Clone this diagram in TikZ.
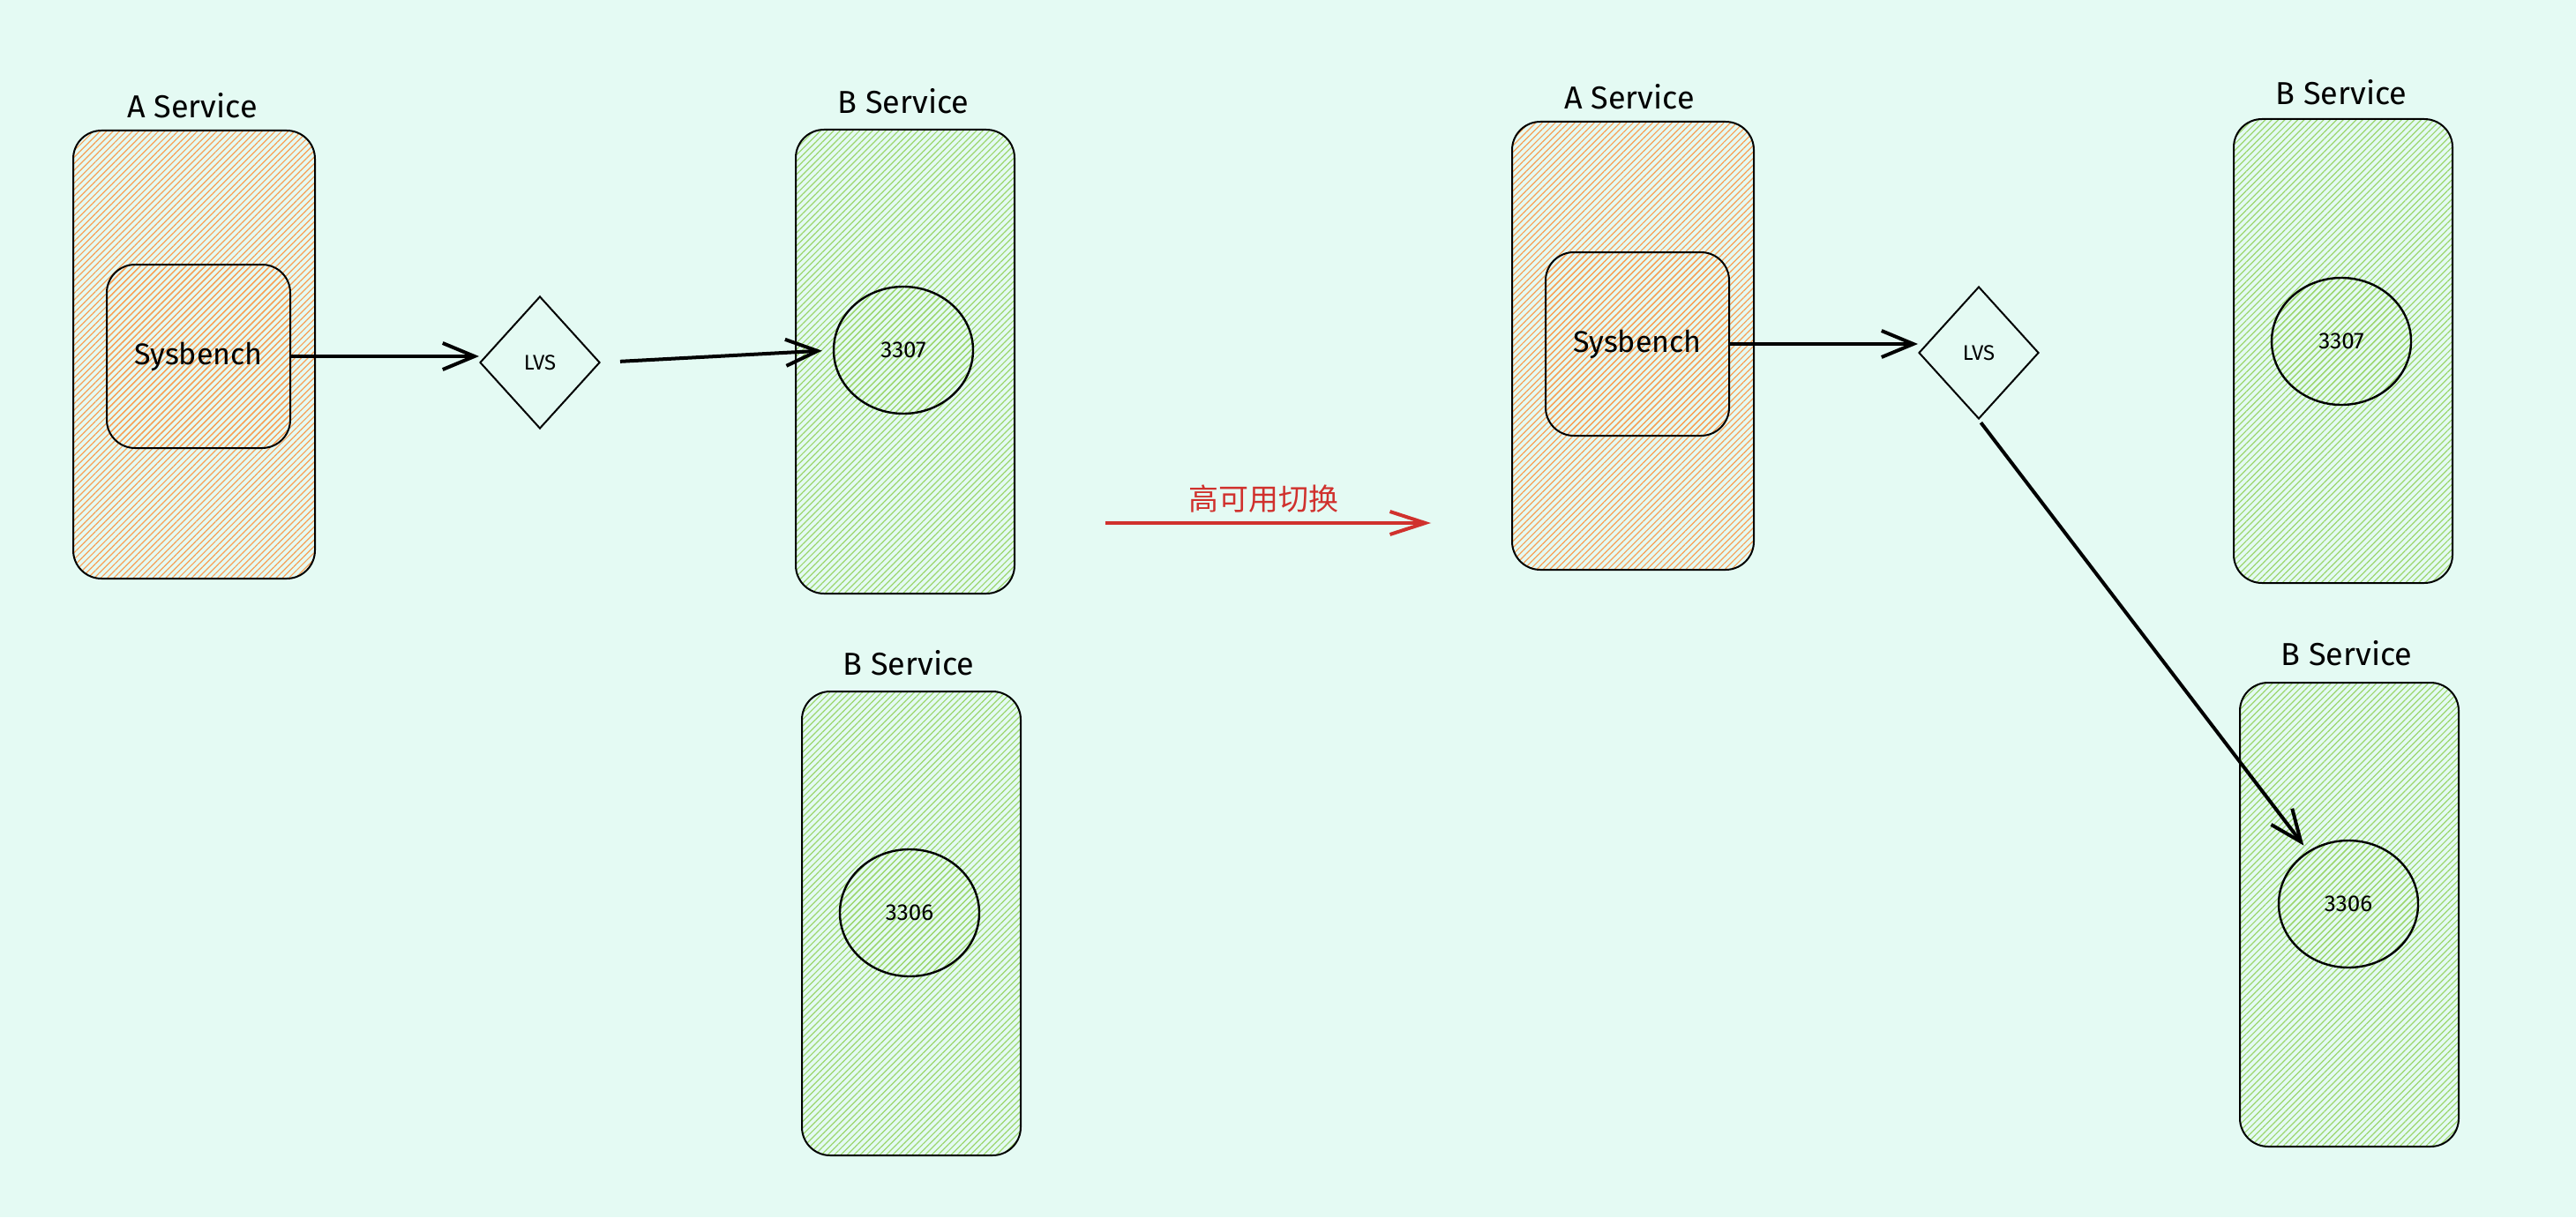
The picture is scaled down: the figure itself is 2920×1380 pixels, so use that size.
\documentclass[tikz,border=0pt]{standalone}
\usepackage{fontspec}
\setmainfont{Fira Sans}
\newfontfamily\cjkfont{Noto Sans CJK SC}
\usetikzlibrary{arrows.meta, shapes.geometric, patterns.meta}
\definecolor{bgmint}{HTML}{E4FAF3}
\definecolor{hachorange}{HTML}{F7A056}
\definecolor{hachgreen}{HTML}{9CD66E}
\definecolor{switchred}{HTML}{D0312D}

\begin{document}
\begin{tikzpicture}[
  x=0.25pt, y=-0.25pt,
  hach/.style={pattern={Lines[angle=45, distance=1.3pt, line width=0.3pt]}, pattern color=#1},
  svcA/.style={draw, line width=0.5pt, rounded corners=8pt, hach=hachorange, minimum width=68.5pt, minimum height=127pt},
  svcB/.style={draw, line width=0.5pt, rounded corners=8pt, hach=hachgreen, minimum width=62pt, minimum height=131.5pt},
  bench/.style={draw, line width=0.5pt, rounded corners=8pt, hach=hachorange, minimum width=52pt, minimum height=52pt, font=\fontsize{8.5}{10}\selectfont},
  lvs/.style={draw, line width=0.5pt, diamond, fill=bgmint, inner sep=0pt, minimum width=34pt, minimum height=37.5pt, font=\fontsize{6}{7}\selectfont},
  db/.style={draw, line width=0.6pt, ellipse, hach=hachgreen, inner sep=0pt, minimum width=39.5pt, minimum height=36pt, font=\fontsize{6.5}{8}\selectfont},
  lbl/.style={font=\fontsize{9}{11}\selectfont},
  arr/.style={-{Straight Barb[length=9pt, width=7.5pt, line width=1pt]}, line width=1pt},
  switch/.style={-{Straight Barb[length=10pt, width=6.5pt, line width=1pt]}, line width=1pt, switchred}
]
\fill[bgmint] (0,0) rectangle (2920,1380);
\useasboundingbox (0,0) rectangle (2920,1380);

% before the switch
\node[svcA] (aL) at (220,402) {};
\node[lbl] (aLlbl) at (218,120) {A Service};
\node[bench] (sbL) at (225,404) {Sysbench};
\node[lvs] (lvsL) at (612,411) {LVS};
\node[svcB] (bL1) at (1026,410) {};
\node[lbl] (bL1lbl) at (1024,115) {B Service};
\node[db] (dbL1) at (1024,397) {3307};
\node[svcB] (bL2) at (1033,1047) {};
\node[lbl] (bL2lbl) at (1030,752) {B Service};
\node[db] (dbL2) at (1031,1035) {3306};

\draw[arr] (sbL.east) -- (sbL.east -| lvsL.west);
\draw[arr, shorten <=5.5pt, shorten >=3pt] (lvsL.east) -- (dbL1.west);

% switch
\coordinate (swA) at (1253,593);
\coordinate (swB) at (1622,593);
\draw[switch] (swA) -- (swB);
\node[font=\cjkfont\fontsize{8.5}{10}\selectfont, text=switchred] (swlbl) at (1432,566) {高可用切换};

% after the switch
\node[svcA] (aR) at (1851,392) {};
\node[lbl] (aRlbl) at (1847,110) {A Service};
\node[bench] (sbR) at (1856,390) {Sysbench};
\node[lvs] (lvsR) at (2243,400) {LVS};
\node[svcB] (bR1) at (2656,398) {};
\node[lbl] (bR1lbl) at (2654,105) {B Service};
\node[db] (dbR1) at (2654,387) {3307};
\node[svcB] (bR2) at (2663,1037) {};
\node[lbl] (bR2lbl) at (2660,741) {B Service};
\node[db] (dbR2) at (2662,1025) {3306};

\draw[arr] (sbR.east) -- (sbR.east -| lvsR.west);
\draw[arr, shorten <=1pt, shorten >=2pt] (lvsR.south) -- (dbR2);
\end{tikzpicture}
\end{document}
